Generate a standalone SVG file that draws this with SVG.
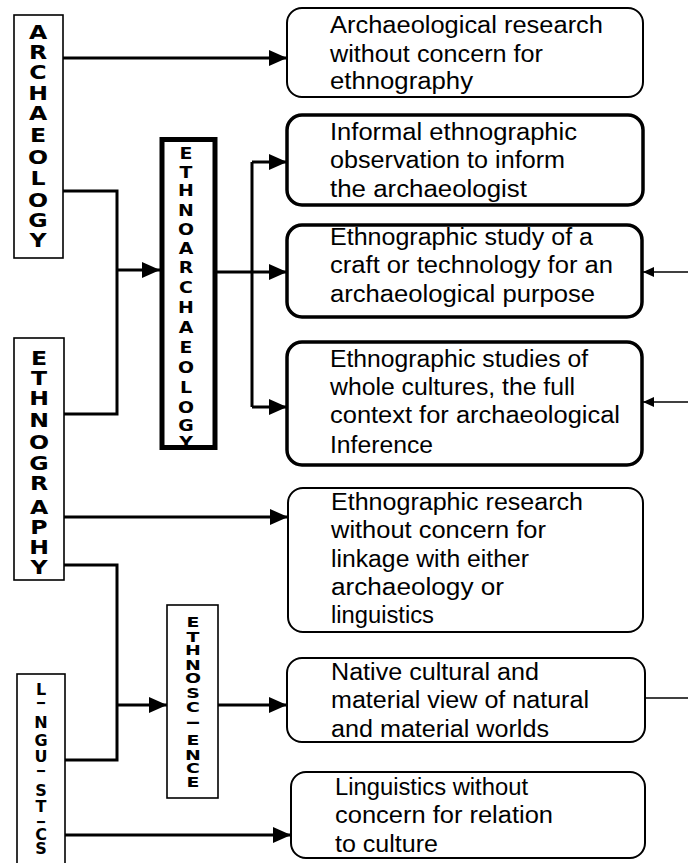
<svg xmlns="http://www.w3.org/2000/svg" width="688" height="863" viewBox="0 0 688 863">
<style>
.bg{fill:#fff}
.vbox{fill:#fff;stroke:#000;stroke-width:1.6}
.vthick{fill:#fff;stroke:#000;stroke-width:5}
.box{fill:#fff;stroke:#000;stroke-width:2}
.boxb{fill:#fff;stroke:#000;stroke-width:3.5}
.v{font-family:"DejaVu Sans",sans-serif;font-weight:bold;text-anchor:middle;fill:#000}
.v20{font-size:20px}
.v16{font-size:16px}
.v15{font-size:16px}
.v14{font-size:14px}
.t{font-family:"Liberation Sans",Arial,sans-serif;font-size:23px;fill:#000}
.c{fill:none;stroke:#000;stroke-width:3}
.cthin{fill:none;stroke:#000;stroke-width:1.5}
</style>
<defs>
<marker id="big" markerUnits="userSpaceOnUse" markerWidth="18" markerHeight="16" refX="18" refY="8" orient="auto">
<path d="M0,0 L18,8 L0,16 z" fill="#000"/>
</marker>
<marker id="small" markerUnits="userSpaceOnUse" markerWidth="11" markerHeight="10" refX="11" refY="5" orient="auto">
<path d="M0,0 L11,5 L0,10 z" fill="#000"/>
</marker>
</defs>
<rect class="bg" x="0" y="0" width="688" height="863"/>

<g id="connectors">
<path class="c" d="M63,58 H287" marker-end="url(#big)"/>
<path class="c" d="M63,191 H117 V414 H64"/>
<path class="c" d="M117,270 H160" marker-end="url(#big)"/>
<path class="c" d="M215,272 H252"/>
<path class="c" d="M252,162 V407"/>
<path class="c" d="M252,162 H287" marker-end="url(#big)"/>
<path class="c" d="M252,272 H287" marker-end="url(#big)"/>
<path class="c" d="M252,407 H287" marker-end="url(#big)"/>
<path class="c" d="M64,517 H288" marker-end="url(#big)"/>
<path class="c" d="M64,565 H117 V760 H65"/>
<path class="c" d="M117,705 H167" marker-end="url(#big)"/>
<path class="c" d="M218,705 H287" marker-end="url(#big)"/>
<path class="c" d="M65,835 H291" marker-end="url(#big)"/>
<path class="cthin" d="M688,272 H643" marker-end="url(#small)"/>
<path class="cthin" d="M688,402 H643" marker-end="url(#small)"/>
<path class="cthin" d="M645,698 H688"/>
</g>

<g id="archaeology">
<rect class="vbox" x="14" y="15" width="49" height="243"/>
<g class="v v20" transform="translate(38 0) scale(1.18 1)">
<text x="0" y="39">A</text><text x="0" y="59">R</text><text x="0" y="79">C</text><text x="0" y="100">H</text><text x="0" y="120">A</text><text x="0" y="142">E</text><text x="0" y="164">O</text><text x="0" y="185">L</text><text x="0" y="207">O</text><text x="0" y="227">G</text><text x="0" y="247">Y</text>
</g>
</g>

<g id="ethnoarchaeology">
<rect class="vthick" x="162" y="139.5" width="53" height="308"/>
<g class="v v16" transform="translate(186 0) scale(1.18 1)">
<text x="0" y="159">E</text><text x="0" y="178">T</text><text x="0" y="196">H</text><text x="0" y="216">N</text><text x="0" y="235">O</text><text x="0" y="254">A</text><text x="0" y="273">R</text><text x="0" y="293">C</text><text x="0" y="313">H</text><text x="0" y="333">A</text><text x="0" y="353">E</text><text x="0" y="373">O</text><text x="0" y="393">L</text><text x="0" y="413">O</text><text x="0" y="431">G</text><text x="0" y="448">Y</text>
</g>
</g>

<g id="ethnography">
<rect class="vbox" x="14" y="338" width="50" height="242"/>
<g class="v v20" transform="translate(39 0) scale(1.18 1)">
<text x="0" y="365">E</text><text x="0" y="385">T</text><text x="0" y="405">H</text><text x="0" y="427">N</text><text x="0" y="449">O</text><text x="0" y="470">G</text><text x="0" y="490">R</text><text x="0" y="514">A</text><text x="0" y="534">P</text><text x="0" y="554">H</text><text x="0" y="574">Y</text>
</g>
</g>

<g id="linguistics">
<rect class="vbox" x="17" y="674" width="48" height="200"/>
<g class="v v15" transform="translate(41 0)">
<text x="0" y="695">L</text>
<text x="0" y="707" font-size="11" transform="rotate(90 0 703)">I</text>
<text x="0" y="728">N</text><text x="0" y="746">G</text><text x="0" y="762">U</text>
<text x="0" y="775" font-size="11" transform="rotate(90 0 771)">I</text>
<text x="0" y="796">S</text><text x="0" y="812">T</text>
<text x="0" y="826" font-size="11" transform="rotate(90 0 822)">I</text>
<text x="0" y="840">C</text><text x="0" y="854">S</text>
</g>
</g>

<g id="ethnoscience">
<rect class="vbox" x="167" y="605" width="51" height="193"/>
<g class="v v14" transform="translate(193 0) scale(1.35 1)">
<text x="0" y="627">E</text><text x="0" y="642">T</text><text x="0" y="655">H</text><text x="0" y="670">N</text><text x="0" y="683">O</text><text x="0" y="698">S</text><text x="0" y="712">C</text>
<text x="0" y="727.5" font-size="12" transform="rotate(90 0 723)">I</text>
<text x="0" y="745">E</text><text x="0" y="760">N</text><text x="0" y="773">C</text><text x="0" y="787">E</text>
</g>
</g>

<g id="box1">
<rect class="box" x="287" y="8" width="356" height="89" rx="15"/>
<text class="t" x="330" y="33" textLength="273" lengthAdjust="spacingAndGlyphs">Archaeological research</text>
<text class="t" x="330" y="62" textLength="213" lengthAdjust="spacingAndGlyphs">without concern for</text>
<text class="t" x="330" y="89" textLength="143" lengthAdjust="spacingAndGlyphs">ethnography</text>
</g>

<g id="box2">
<rect class="boxb" x="287" y="115" width="356" height="90" rx="15"/>
<text class="t" x="330" y="140" textLength="247" lengthAdjust="spacingAndGlyphs">Informal ethnographic</text>
<text class="t" x="330" y="168" textLength="235" lengthAdjust="spacingAndGlyphs">observation to inform</text>
<text class="t" x="330" y="197" textLength="197" lengthAdjust="spacingAndGlyphs">the archaeologist</text>
</g>

<g id="box3">
<rect class="boxb" x="287" y="225" width="355" height="92" rx="15"/>
<text class="t" x="330" y="245" textLength="263" lengthAdjust="spacingAndGlyphs">Ethnographic study of a</text>
<text class="t" x="330" y="273" textLength="283" lengthAdjust="spacingAndGlyphs">craft or technology for an</text>
<text class="t" x="330" y="302" textLength="265" lengthAdjust="spacingAndGlyphs">archaeological purpose</text>
</g>

<g id="box4">
<rect class="boxb" x="287" y="342" width="355" height="123" rx="15"/>
<text class="t" x="330" y="367" textLength="258" lengthAdjust="spacingAndGlyphs">Ethnographic studies of</text>
<text class="t" x="330" y="395" textLength="245" lengthAdjust="spacingAndGlyphs">whole cultures, the full</text>
<text class="t" x="330" y="423" textLength="290" lengthAdjust="spacingAndGlyphs">context for archaeological</text>
<text class="t" x="330" y="453" textLength="103" lengthAdjust="spacingAndGlyphs">Inference</text>
</g>

<g id="box5">
<rect class="box" x="288" y="488" width="355" height="144" rx="15"/>
<text class="t" x="331" y="510" textLength="252" lengthAdjust="spacingAndGlyphs">Ethnographic research</text>
<text class="t" x="331" y="538" textLength="215" lengthAdjust="spacingAndGlyphs">without concern for</text>
<text class="t" x="331" y="567" textLength="198" lengthAdjust="spacingAndGlyphs">linkage with either</text>
<text class="t" x="331" y="595" textLength="173" lengthAdjust="spacingAndGlyphs">archaeology or</text>
<text class="t" x="331" y="623" textLength="103" lengthAdjust="spacingAndGlyphs">linguistics</text>
</g>

<g id="box6">
<rect class="box" x="287" y="658" width="358" height="84" rx="15"/>
<text class="t" x="331" y="680" textLength="208" lengthAdjust="spacingAndGlyphs">Native cultural and</text>
<text class="t" x="331" y="708" textLength="258" lengthAdjust="spacingAndGlyphs">material view of natural</text>
<text class="t" x="331" y="737" textLength="218" lengthAdjust="spacingAndGlyphs">and material worlds</text>
</g>

<g id="box7">
<rect class="box" x="291" y="772" width="354" height="86" rx="15"/>
<text class="t" x="335" y="795" textLength="193" lengthAdjust="spacingAndGlyphs">Linguistics without</text>
<text class="t" x="335" y="823" textLength="218" lengthAdjust="spacingAndGlyphs">concern for relation</text>
<text class="t" x="335" y="852" textLength="103" lengthAdjust="spacingAndGlyphs">to culture</text>
</g>
</svg>
